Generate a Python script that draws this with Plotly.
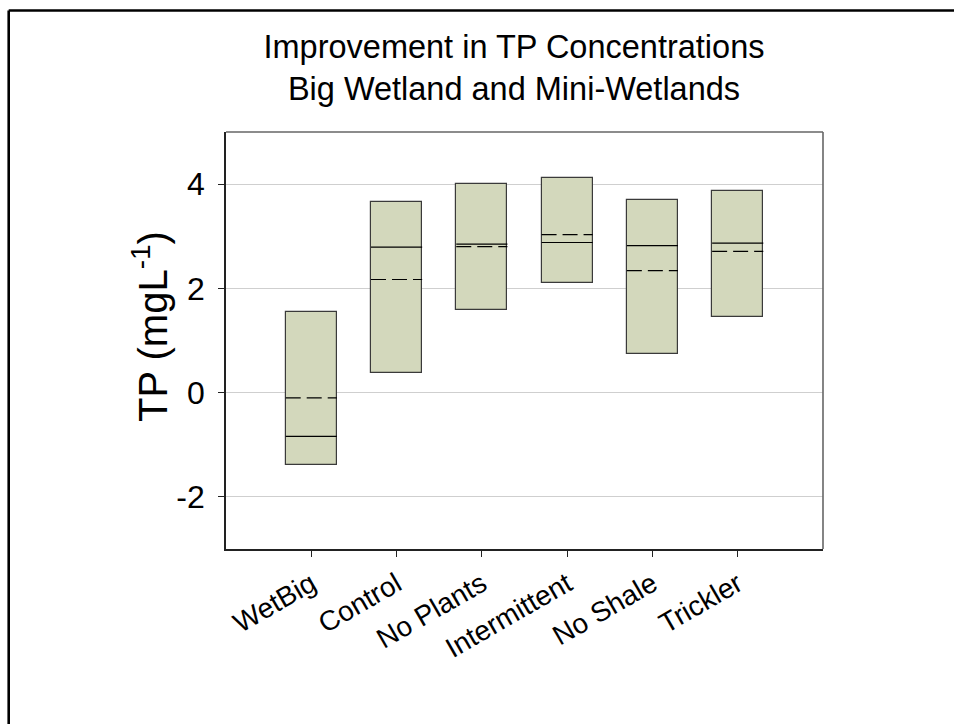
import plotly.graph_objects as go

categories = ["WetBig", "Control", "No Plants", "Intermittent", "No Shale", "Trickler"]
q1 = [-1.38, 0.38, 1.59, 2.10, 0.75, 1.45]
q3 = [1.54, 3.66, 4.00, 4.11, 3.69, 3.87]
medians = [-0.84, 2.79, 2.85, 2.88, 2.82, 2.87]
means = [-0.10, 2.17, 2.80, 3.03, 2.34, 2.71]
y_ticks = [-2, 0, 2, 4]
y_tick_labels = ["-2", "0", "2", "4"]

BOX_W = 0.6
FONT = "Liberation Sans, Arial, sans-serif"
FILL = "#d3d8bc"
EDGE = "#3a3a3a"

idx = list(range(len(categories)))

def segments(vals):
    xs, ys = [], []
    for i, v in zip(idx, vals):
        xs += [i - BOX_W / 2, i + BOX_W / 2, None]
        ys += [v, v, None]
    return xs, ys

fig = go.Figure()
fig.add_trace(go.Bar(
    x=idx, y=[b - a for a, b in zip(q1, q3)], base=q1, width=BOX_W,
    marker=dict(color=FILL, line=dict(color=EDGE, width=1.2)),
    hoverinfo="skip", showlegend=False,
))
mx, my = segments(medians)
fig.add_trace(go.Scatter(x=mx, y=my, mode="lines",
                         line=dict(color="black", width=1.2),
                         showlegend=False, hoverinfo="skip"))
ax, ay = segments(means)
fig.add_trace(go.Scatter(x=ax, y=ay, mode="lines",
                         line=dict(color="black", width=1.2, dash="15px,6px"),
                         showlegend=False, hoverinfo="skip"))

W, H = 954, 724
L, R, T, B = 226, 131, 132, 175
pw, ph = W - L - R, H - T - B

def px_x(p):
    return (p - L) / pw

def px_y(p):
    return (H - B - p) / ph

fig.update_layout(
    width=W, height=H, autosize=False,
    margin=dict(l=L, r=R, t=T, b=B, pad=0),
    paper_bgcolor="white", plot_bgcolor="white",
    font=dict(family=FONT, color="black"),
    title=dict(
        text="Improvement in TP Concentrations<br>Big Wetland and Mini-Wetlands",
        font=dict(size=32.5, family=FONT, color="black"),
        xref="paper", x=px_x(514), xanchor="center",
        yref="container", y=1 - 58 / H, yanchor="top",
    ),
    bargap=0,
    xaxis=dict(
        range=[-1, len(categories)], tickmode="array", tickvals=idx,
        ticktext=categories, tickangle=-30, tickfont=dict(size=28),
        showgrid=False, zeroline=False, showline=True,
        linecolor="#222", linewidth=1.6,
        ticks="outside", ticklen=6, tickcolor="#222", tickwidth=1.2,
    ),
    yaxis=dict(
        range=[-3, 5], tickmode="array", tickvals=y_ticks,
        ticktext=y_tick_labels, ticklabelstandoff=7,
        tickfont=dict(size=32), showgrid=True, gridcolor="#cfcfcf",
        gridwidth=1.4, zeroline=False, showline=True,
        linecolor="#222", linewidth=1.6,
        ticks="outside", ticklen=6, tickcolor="#222", tickwidth=1.2,
    ),
    shapes=[
        # top and right plot frame (gray)
        dict(type="line", xref="paper", yref="paper", x0=0, x1=1, y0=1, y1=1,
             line=dict(color="#666", width=1.6)),
        dict(type="line", xref="paper", yref="paper", x0=1, x1=1, y0=0, y1=1,
             line=dict(color="#666", width=1.6)),
        # outer page frame (left and top)
        dict(type="line", xref="paper", yref="paper",
             x0=px_x(8.7), x1=px_x(970), y0=px_y(10.5), y1=px_y(10.5),
             line=dict(color="black", width=2.6)),
        dict(type="line", xref="paper", yref="paper",
             x0=px_x(8.7), x1=px_x(8.7), y0=px_y(10.5), y1=px_y(740),
             line=dict(color="black", width=2.6)),
    ],
    annotations=[
        dict(text="TP (mgL<sup>-1</sup>)", textangle=-90,
             xref="paper", yref="paper", x=px_x(150), y=px_y(327),
             xanchor="center", yanchor="middle", showarrow=False,
             font=dict(size=40, family=FONT, color="black")),
    ],
)

fig.write_html("out.html")
